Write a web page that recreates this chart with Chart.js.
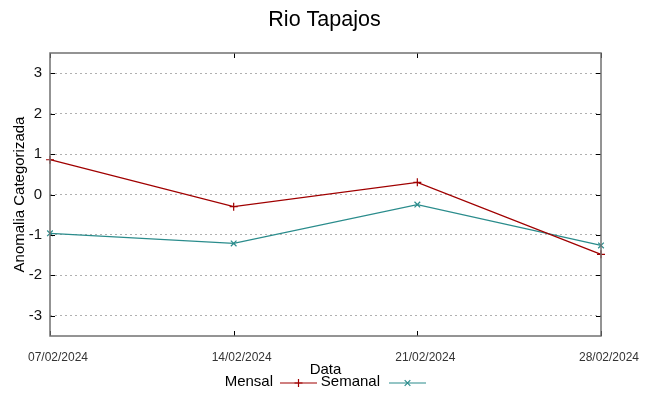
<!DOCTYPE html>
<html>
<head>
<meta charset="utf-8">
<script src="https://cdn.jsdelivr.net/npm/chart.js@4"></script>
<style>
  html, body { margin: 0; padding: 0; background: #fff; }
  #wrap { width: 649px; height: 396px; }
</style>
</head>
<body>
<div id="wrap"><canvas id="chart"></canvas></div>
<script>
const dates = ["07/02/2024", "14/02/2024", "21/02/2024", "28/02/2024"];
const mensal = [0.86, -0.30, 0.30, -1.48];
const semanal = [-0.96, -1.21, -0.25, -1.26];
const yTicks = [-3, -2, -1, 0, 1, 2, 3];
const title = "Rio Tapajos";

const FONT = "'Liberation Sans', Arial, sans-serif";
const RED = "#a00000";
const TEAL = "#2a8c8c";

// frame, inward ticks, title and the legend, gnuplot style
const framePlugin = {
  id: "frame",
  afterDatasetsDraw(chart) {
    const ctx = chart.ctx;
    const a = chart.chartArea;
    const x = chart.scales.x, y = chart.scales.y;
    ctx.save();
    ctx.strokeStyle = "#000";
    ctx.lineWidth = 1;
    yTicks.forEach(v => {
      const py = Math.round(y.getPixelForValue(v)) + 0.5;
      ctx.beginPath();
      ctx.moveTo(a.left, py); ctx.lineTo(a.left + 5, py);
      ctx.moveTo(a.right, py); ctx.lineTo(a.right - 5, py);
      ctx.stroke();
    });
    dates.forEach((d, i) => {
      const px = Math.round(x.getPixelForValue(i)) + 0.5;
      ctx.beginPath();
      ctx.moveTo(px, a.bottom); ctx.lineTo(px, a.bottom - 5);
      ctx.moveTo(px, a.top); ctx.lineTo(px, a.top + 5);
      ctx.stroke();
    });
    ctx.strokeStyle = "#707070";
    ctx.lineWidth = 1.5;
    ctx.strokeRect(a.left, a.top, a.right - a.left, a.bottom - a.top);

    // title centred on the whole canvas
    ctx.fillStyle = "#000";
    ctx.textAlign = "center";
    ctx.textBaseline = "middle";
    ctx.font = "21.5px " + FONT;
    ctx.fillText(title, chart.width / 2, 20);

    // legend
    ctx.font = "15px " + FONT;
    ctx.textAlign = "right";
    const items = [
      { label: "Mensal", color: RED, style: "cross", tx: 273, x0: 280 },
      { label: "Semanal", color: TEAL, style: "crossRot", tx: 380, x0: 389 }
    ];
    const ly = 382;
    items.forEach(it => {
      ctx.fillText(it.label, it.tx, ly);
      ctx.strokeStyle = it.color;
      ctx.lineWidth = 1.2;
      ctx.beginPath();
      ctx.moveTo(it.x0, ly + 1); ctx.lineTo(it.x0 + 37, ly + 1);
      ctx.stroke();
      Chart.helpers.drawPoint(ctx, { pointStyle: it.style, radius: 4, borderWidth: 1.2 }, it.x0 + 18.5, ly + 1);
    });
    ctx.restore();
  }
};

new Chart(document.getElementById("chart"), {
  type: "line",
  data: {
    labels: dates,
    datasets: [
      {
        label: "Mensal",
        data: mensal,
        borderColor: RED,
        backgroundColor: RED,
        borderWidth: 1.3,
        pointStyle: "cross",
        pointRadius: 4,
        pointBorderWidth: 1.2,
        tension: 0
      },
      {
        label: "Semanal",
        data: semanal,
        borderColor: TEAL,
        backgroundColor: TEAL,
        borderWidth: 1.3,
        pointStyle: "crossRot",
        pointRadius: 4,
        pointBorderWidth: 1.2,
        tension: 0
      }
    ]
  },
  options: {
    responsive: true,
    maintainAspectRatio: false,
    animation: false,
    layout: { padding: { left: 0, right: 48, top: 53, bottom: 0 } },
    plugins: {
      legend: { display: false },
      tooltip: { enabled: false },
      title: { display: false }
    },
    scales: {
      x: {
        offset: false,
        grid: { display: false, drawTicks: false },
        border: { display: false },
        ticks: {
          color: "#333",
          font: { family: FONT, size: 12 },
          padding: 14,
          labelOffset: 8,
          maxRotation: 0,
          autoSkip: false
        },
        title: {
          display: true,
          text: "Data",
          color: "#000",
          font: { family: FONT, size: 15 },
          padding: { top: 0, bottom: 17 }
        },
        afterFit(s) { s.height = 60; }
      },
      y: {
        min: -3.5,
        max: 3.5,
        afterBuildTicks(s) { s.ticks = yTicks.map(v => ({ value: v })); },
        grid: {
          color: "#b0b0b0",
          lineWidth: 1,
          drawTicks: false
        },
        border: { display: false, dash: [2, 3] },
        ticks: {
          color: "#111",
          font: { family: FONT, size: 15 },
          padding: 8
        },
        title: {
          display: true,
          text: "Anomalia Categorizada",
          color: "#000",
          font: { family: FONT, size: 15 },
          padding: { top: 11, bottom: 0 }
        },
        afterFit(s) { s.width = 50; }
      }
    }
  },
  plugins: [framePlugin]
});
</script>
</body>
</html>
